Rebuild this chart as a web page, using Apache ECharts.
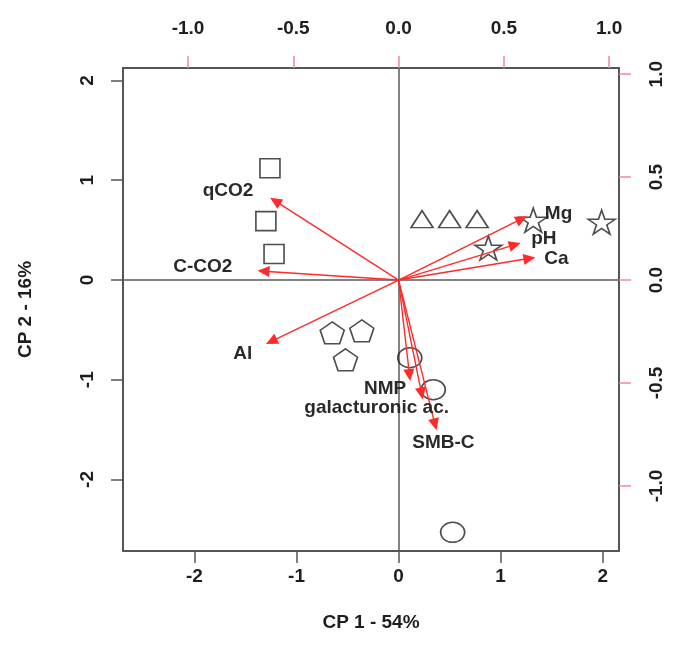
<!DOCTYPE html>
<html>
<head>
<meta charset="utf-8">
<script src="https://cdn.jsdelivr.net/npm/echarts@6/dist/echarts.min.js"></script>
<style>html,body{margin:0;padding:0;background:#fff}#c{width:675px;height:660px}</style>
</head>
<body>
<div id="c"></div>
<script>
// ---- data (scores on CP1/CP2, bottom/left axes) ----
const squares   = [[-1.26, 1.12], [-1.30, 0.59], [-1.22, 0.26]];
const triangles = [[0.23, 0.61], [0.50, 0.61], [0.77, 0.61]];
const stars     = [[0.88, 0.32], [1.32, 0.60], [1.99, 0.58]];
const pentagons = [[-0.65, -0.53], [-0.36, -0.51], [-0.52, -0.80]];
const circles   = [[0.11, -0.78], [0.34, -1.10], [0.53, -2.53]];
// ---- variable loadings (top/right axes) ----
const variables = ['qCO2', 'C-CO2', 'Al', 'Mg', 'pH', 'Ca', 'NMP', 'galacturonic ac.', 'SMB-C'];
const loadings  = [[-0.61, 0.40], [-0.67, 0.045], [-0.63, -0.31], [0.61, 0.31], [0.58, 0.18], [0.65, 0.11], [0.055, -0.49], [0.115, -0.58], [0.18, -0.73]];
const labelAt   = [[-0.81, 0.435], [-0.93, 0.065], [-0.74, -0.36], [0.76, 0.32], [0.69, 0.20], [0.75, 0.105], [-0.064, -0.53], [-0.104, -0.62], [0.213, -0.79]];
// ---- tick labels ----
const xTicks  = [-2, -1, 0, 1, 2];
const yTicks  = [-2, -1, 0, 1, 2];
const x2Ticks = [-1.0, -0.5, 0.0, 0.5, 1.0];
const y2Ticks = [-1.0, -0.5, 0.0, 0.5, 1.0];
const xTitle = 'CP 1 - 54%';
const yTitle = 'CP 2 - 16%';

const FONT = 'Liberation Sans, Arial, sans-serif';
const TXT = '#1e1e1e';
const BOX = '#555';
const RED = '#ff2a2a';
const PINK = '#ef8a95';

const STAR = 'path://M100 0 L122.45 69.1 L195.1 69.1 L136.3 111.8 L158.8 180.9 L100 138.2 L41.2 180.9 L63.7 111.8 L4.9 69.1 L77.55 69.1 Z';
const PENT = 'path://M100 0 L195.1 69.1 L158.8 180.9 L41.2 180.9 L4.9 69.1 Z';

const lblBase = {fontFamily: FONT, fontWeight: 'bold', fontSize: 19, color: TXT};

function axisX(pos, min, max, ticks, fmt, tickColor, extra) {
  return Object.assign({
    type: 'value', position: pos, min: min, max: max, scale: true,
    axisLine: {show: true, onZero: false, lineStyle: {color: BOX, width: 2}},
    axisTick: {show: true, length: 12, customValues: ticks, lineStyle: {color: tickColor, width: 1.5}},
    axisLabel: Object.assign({show: true, customValues: ticks, formatter: fmt, margin: 12}, lblBase),
    splitLine: {show: false}
  }, extra || {});
}

const markerStyle = {color: 'rgba(0,0,0,0)', borderColor: '#222', borderWidth: 1.6};
function markers(data, symbol, size) {
  return {type: 'scatter', xAxisIndex: 0, yAxisIndex: 0, data: data, symbol: symbol, symbolSize: size,
          itemStyle: markerStyle, silent: true, z: 3};
}

const chart = echarts.init(document.getElementById('c'), null, {renderer: 'canvas'});
chart.setOption({
  animation: false,
  backgroundColor: '#fff',
  grid: {left: 123, right: 56, top: 68, bottom: 109, containLabel: false, outerBoundsMode: 'none'},
  xAxis: [
    axisX('bottom', -2.70, 2.16, xTicks, v => String(v), BOX,
      {name: xTitle, nameLocation: 'middle', nameGap: 62,
       nameTextStyle: Object.assign({}, lblBase), axisLabel: Object.assign({show: true, customValues: xTicks, formatter: v => String(v), margin: 16}, lblBase)}),
    axisX('top', -1.309, 1.047, x2Ticks, v => v.toFixed(1), PINK,
      {axisLabel: Object.assign({show: true, customValues: x2Ticks, formatter: v => v.toFixed(1), margin: 30}, lblBase)})
  ],
  yAxis: [
    axisX('left', -2.717, 2.125, yTicks, v => String(v), BOX,
      {name: yTitle, nameLocation: 'middle', nameGap: 88, nameRotate: 90,
       nameTextStyle: Object.assign({}, lblBase),
       axisLabel: Object.assign({show: true, customValues: yTicks, formatter: v => String(v), margin: 26, rotate: 90}, lblBase)}),
    axisX('right', -1.316, 1.030, y2Ticks, v => v.toFixed(1), PINK,
      {axisLabel: Object.assign({show: true, customValues: y2Ticks, formatter: v => v.toFixed(1), margin: 28, rotate: 90}, lblBase)})
  ],
  series: [
    Object.assign(markers(squares, 'rect', [20, 19]), {
      markLine: {silent: true, symbol: ['none', 'none'], label: {show: false},
                 lineStyle: {color: '#5a5a5a', width: 1.5, type: 'solid'},
                 data: [{xAxis: 0}, {yAxis: 0}], z: 1}
    }),
    markers(triangles, 'triangle', [22, 17]),
    markers(stars, STAR, [27, 24]),
    markers(pentagons, PENT, [24, 22]),
    markers(circles, 'circle', [24, 20]),
    {
      type: 'custom', xAxisIndex: 1, yAxisIndex: 1, clip: false, silent: true, z: 4,
      data: loadings,
      renderItem: function (params, api) {
        const o = api.coord([0, 0]);
        const t = api.coord([api.value(0), api.value(1)]);
        const dx = t[0] - o[0], dy = t[1] - o[1];
        const len = Math.hypot(dx, dy);
        const ux = dx / len, uy = dy / len;
        const hl = 12, hw = 5.5;
        const b = [t[0] - ux * hl, t[1] - uy * hl];
        return {type: 'group', children: [
          {type: 'line', shape: {x1: o[0], y1: o[1], x2: b[0] + ux * 2, y2: b[1] + uy * 2},
           style: {stroke: RED, lineWidth: 1.4}},
          {type: 'polygon', shape: {points: [t, [b[0] - uy * hw, b[1] + ux * hw], [b[0] + uy * hw, b[1] - ux * hw]]},
           style: {fill: RED}}
        ]};
      }
    },
    {
      type: 'custom', xAxisIndex: 1, yAxisIndex: 1, clip: false, silent: true, z: 5,
      data: labelAt,
      renderItem: function (params, api) {
        const p = api.coord([api.value(0), api.value(1)]);
        return {type: 'text', x: p[0], y: p[1],
          style: {text: variables[params.dataIndex], fontFamily: FONT, fontWeight: 'bold', fontSize: 19,
                  fill: '#2a2a2a', align: 'center', verticalAlign: 'middle'}};
      }
    }
  ]
});
</script>
</body>
</html>
